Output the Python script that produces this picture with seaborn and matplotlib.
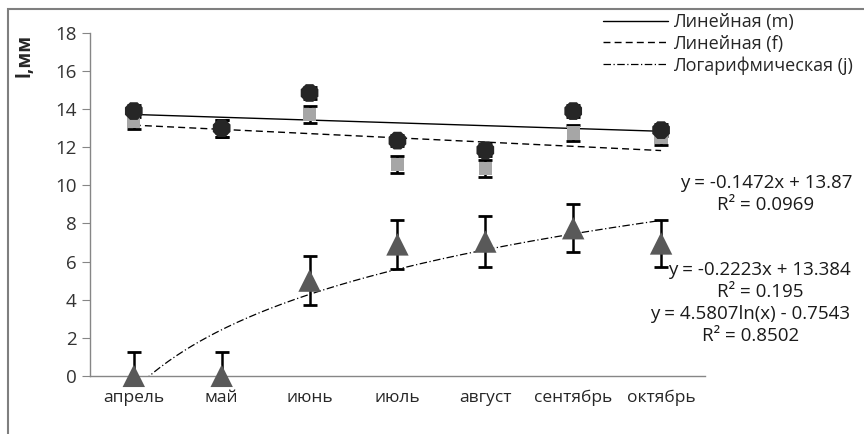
import matplotlib
matplotlib.use('Agg')
import matplotlib.pyplot as plt
import seaborn as sns
import pandas as pd
import numpy as np
from matplotlib.lines import Line2D
from matplotlib.patches import Rectangle

months = ['апрель', 'май', 'июнь', 'июль', 'август', 'сентябрь', 'октябрь']

# средняя длина, мм
m_vals = [13.9, 13.0, 14.85, 12.35, 11.85, 13.9, 12.9]
m_err = [0.3, 0.45, 0.3, 0.3, 0.3, 0.3, 0.3]
f_vals = [13.35, 13.0, 13.7, 11.1, 10.9, 12.75, 12.5]
f_err = [0.4, 0.45, 0.45, 0.45, 0.45, 0.4, 0.4]
j_vals = [0.0, 0.0, 5.0, 6.9, 7.05, 7.75, 6.95]
j_err = [1.25, 1.25, 1.3, 1.3, 1.35, 1.25, 1.25]

# коэффициенты линий тренда (как подписано на графике)
m_slope, m_icpt = -0.1472, 13.87
f_slope, f_icpt = -0.2223, 13.384
j_a, j_b = 4.5807, -0.7543

df = pd.DataFrame({'x': np.arange(1, 8), 'month': months,
                   'm': m_vals, 'f': f_vals, 'j': j_vals})

sns.set_style('white')
plt.rcParams['font.family'] = ['Open Sans', 'DejaVu Sans']

fig = plt.figure(figsize=(8.64, 4.34), dpi=100)
ax = fig.add_axes([0.104, 0.134, 0.712, 0.790])

# рамка вокруг диаграммы
fig.patches.append(Rectangle((8 / 864, -0.05), 1.0, 1 - 9 / 434 + 0.05,
                             transform=fig.transFigure, fill=False,
                             edgecolor='#7f7f7f', lw=1.5))

# линии тренда
xs = np.linspace(1, 7, 200)
trend = pd.DataFrame({'x': xs,
                      'm': m_slope * xs + m_icpt,
                      'f': f_slope * xs + f_icpt,
                      'j': j_a * np.log(xs) + j_b})
sns.lineplot(data=trend, x='x', y='m', ax=ax, color='black', lw=1.0)
sns.lineplot(data=trend, x='x', y='f', ax=ax, color='black', lw=1.0,
             linestyle=(0, (5, 3)))
sns.lineplot(data=trend, x='x', y='j', ax=ax, color='black', lw=0.9,
             linestyle=(0, (6, 2, 1, 2)))

# планки погрешностей
ax.errorbar(df['x'], df['f'], yerr=f_err, fmt='none', ecolor='black',
            elinewidth=1.8, capsize=5, capthick=2)
ax.errorbar(df['x'], df['m'], yerr=m_err, fmt='none', ecolor='black',
            elinewidth=1.8, capsize=5, capthick=2)
ax.errorbar(df['x'], df['j'], yerr=j_err, fmt='none', ecolor='black',
            elinewidth=1.8, capsize=5, capthick=2)

# маркеры
sns.scatterplot(data=df, x='x', y='f', ax=ax, marker='s', s=90,
                color='#a6a6a6', edgecolor='none', zorder=4)
sns.scatterplot(data=df, x='x', y='m', ax=ax, marker='8', s=190,
                color='#262626', edgecolor='none', zorder=5)
sns.scatterplot(data=df, x='x', y='j', ax=ax, marker='^', s=260,
                color='#595959', edgecolor='none', zorder=5, clip_on=False)

ax.set_xlim(0.5, 7.5)
ax.set_ylim(0, 18)
ax.set_yticks(range(0, 19, 2))
ax.set_xticks(range(1, 8))
ax.set_xticklabels(months)
ax.set_xticks(np.arange(0.5, 8, 1), minor=True)
ax.tick_params(axis='x', which='major', length=0, labelsize=12.5, pad=10)
ax.tick_params(axis='x', which='minor', length=6, color='#868686', direction='out')
ax.tick_params(axis='y', length=6, color='#868686', direction='out',
               labelsize=13.5, labelcolor='#333333')
ax.tick_params(axis='y', left=True)
ax.set_xlabel('')
ax.set_ylabel('')
sns.despine(ax=ax)
for s in ['left', 'bottom']:
    ax.spines[s].set_color('#868686')
    ax.spines[s].set_linewidth(1.0)

fig.text(25 / 864, 1 - 55 / 434, 'l,мм', rotation=90, fontsize=13.5,
         fontweight='bold', ha='center', va='center')

# подписи уравнений
eq_kw = dict(fontsize=13.5, ha='center', va='center', color='#1a1a1a')
fig.text(766 / 864, 1 - 183 / 434, 'y = -0.1472x + 13.87', **eq_kw)
fig.text(766 / 864, 1 - 205 / 434, 'R² = 0.0969', **eq_kw)
fig.text(759 / 864, 1 - 270 / 434, 'y = -0.2223x + 13.384', **eq_kw)
fig.text(760 / 864, 1 - 292 / 434, 'R² = 0.195', **eq_kw)
fig.text(750 / 864, 1 - 314 / 434, 'y = 4.5807ln(x) - 0.7543', **eq_kw)
fig.text(751 / 864, 1 - 336 / 434, 'R² = 0.8502', **eq_kw)

handles = [Line2D([], [], color='black', lw=1.0),
           Line2D([], [], color='black', lw=1.0, linestyle=(0, (5, 3))),
           Line2D([], [], color='black', lw=0.9, linestyle=(0, (6, 2, 1, 2)))]
labels = ['Линейная (m)', 'Линейная (f)', 'Логарифмическая (j)']
fig.legend(handles, labels, loc='upper right', bbox_to_anchor=(1.0, 0.995),
           frameon=False, fontsize=13, handlelength=3.6, handletextpad=0.3,
           labelspacing=0.2, borderaxespad=0.2)

fig.savefig('out.png', dpi=100)
